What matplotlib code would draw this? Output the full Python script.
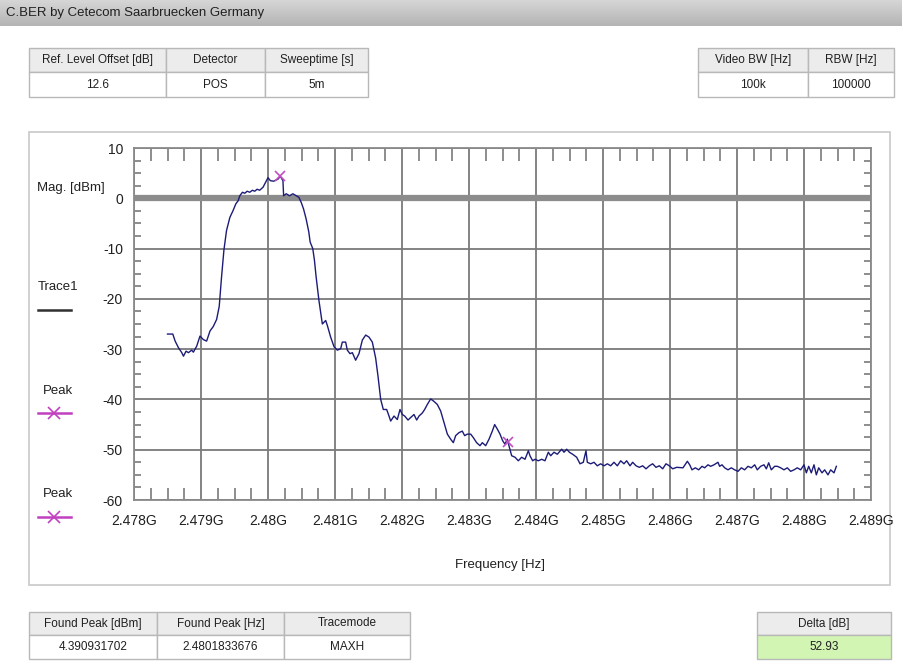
import numpy as np
import matplotlib
matplotlib.use("Agg")
import matplotlib.pyplot as plt
from matplotlib.patches import Rectangle
from matplotlib.lines import Line2D
from matplotlib.ticker import MultipleLocator, FuncFormatter

plt.rcParams['font.family'] = ['Liberation Sans Narrow', 'Liberation Sans', 'DejaVu Sans']

# ---------------- data ----------------
title = "C.BER by Cetecom Saarbruecken Germany"

top_left_headers = ["Ref. Level Offset [dB]", "Detector", "Sweeptime [s]"]
top_left_values = ["12.6", "POS", "5m"]
top_right_headers = ["Video BW [Hz]", "RBW [Hz]"]
top_right_values = ["100k", "100000"]
bottom_headers = ["Found Peak [dBm]", "Found Peak [Hz]", "Tracemode"]
bottom_values = ["4.390931702", "2.4801833676", "MAXH"]
delta_header = "Delta [dB]"
delta_value = "52.93"

# trace: frequency in MHz, level in dBm
freq_mhz = [
    2478.500, 2478.579, 2478.614, 2478.663, 2478.713, 2478.738, 2478.777, 2478.812,
    2478.861, 2478.886, 2478.936, 2478.985, 2479.035, 2479.084, 2479.134, 2479.183,
    2479.233, 2479.272, 2479.307, 2479.342, 2479.381, 2479.431, 2479.480, 2479.520,
    2479.554, 2479.579, 2479.619, 2479.653, 2479.688, 2479.728, 2479.767, 2479.802,
    2479.837, 2479.876, 2479.926, 2479.965, 2480.000, 2480.035, 2480.084, 2480.149,
    2480.183, 2480.223, 2480.233, 2480.272, 2480.322, 2480.371, 2480.421, 2480.460,
    2480.495, 2480.530, 2480.569, 2480.609, 2480.629, 2480.668, 2480.693, 2480.718,
    2480.760, 2480.811, 2480.861, 2480.886, 2480.935, 2480.985, 2481.035, 2481.085,
    2481.109, 2481.159, 2481.184, 2481.224, 2481.259, 2481.308, 2481.358, 2481.408,
    2481.458, 2481.507, 2481.557, 2481.607, 2481.642, 2481.682, 2481.721, 2481.771,
    2481.806, 2481.831, 2481.881, 2481.930, 2481.970, 2482.005, 2482.040, 2482.090,
    2482.129, 2482.179, 2482.219, 2482.254, 2482.303, 2482.338, 2482.378, 2482.428,
    2482.478, 2482.527, 2482.577, 2482.627, 2482.677, 2482.726, 2482.766, 2482.801,
    2482.851, 2482.900, 2482.935, 2482.975, 2483.025, 2483.065, 2483.114, 2483.164,
    2483.199, 2483.249, 2483.299, 2483.348, 2483.383, 2483.423, 2483.463, 2483.502,
    2483.537, 2483.572, 2483.602, 2483.637, 2483.687, 2483.736, 2483.786, 2483.836,
    2483.886, 2483.910, 2483.950, 2483.985, 2484.035, 2484.085, 2484.134, 2484.184,
    2484.219, 2484.269, 2484.318, 2484.383, 2484.418, 2484.458, 2484.498, 2484.547,
    2484.607, 2484.657, 2484.706, 2484.746, 2484.766, 2484.816, 2484.866, 2484.915,
    2484.965, 2485.015, 2485.065, 2485.114, 2485.164, 2485.214, 2485.264, 2485.313,
    2485.353, 2485.403, 2485.443, 2485.493, 2485.542, 2485.592, 2485.642, 2485.692,
    2485.741, 2485.791, 2485.841, 2485.891, 2485.940, 2485.990, 2486.040, 2486.100,
    2486.194, 2486.259, 2486.294, 2486.328, 2486.378, 2486.428, 2486.478, 2486.517,
    2486.567, 2486.607, 2486.657, 2486.716, 2486.741, 2486.776, 2486.816, 2486.866,
    2486.915, 2486.965, 2487.015, 2487.065, 2487.114, 2487.164, 2487.214, 2487.264,
    2487.303, 2487.353, 2487.403, 2487.438, 2487.473, 2487.512, 2487.562, 2487.602,
    2487.652, 2487.701, 2487.751, 2487.801, 2487.851, 2487.900, 2487.950, 2488.000,
    2488.035, 2488.070, 2488.109, 2488.149, 2488.184, 2488.219, 2488.269, 2488.308,
    2488.358, 2488.398, 2488.448, 2488.483,
]
level_dbm = [
    -27.0, -27.0, -28.4, -29.7, -30.7, -31.4, -30.4, -30.7,
    -30.2, -30.6, -29.4, -27.4, -28.1, -28.4, -26.4, -25.5,
    -24.1, -21.5, -15.6, -10.3, -6.4, -3.8, -2.4, -1.1,
    -0.5, 0.5, 1.2, 1.0, 1.4, 1.2, 1.6, 1.4,
    1.8, 1.6, 2.2, 3.2, 4.1, 3.5, 3.4, 3.8,
    4.39, 3.5, 0.5, 0.9, 0.5, 0.9, 0.5, 0.2,
    -0.8, -2.1, -4.1, -6.7, -8.7, -10.0, -12.3, -15.6,
    -20.3, -25.0, -24.3, -25.3, -27.6, -29.5, -30.2, -29.9,
    -28.6, -28.6, -30.2, -30.9, -30.7, -32.2, -30.9, -28.2,
    -27.2, -27.6, -28.6, -31.8, -35.4, -40.0, -42.0, -42.0,
    -43.3, -44.3, -43.3, -44.0, -42.0, -43.0, -43.3, -44.1,
    -43.6, -43.0, -44.1, -43.3, -42.7, -42.0, -41.0, -39.9,
    -40.4, -41.0, -42.3, -44.6, -46.9, -47.9, -48.6, -47.2,
    -46.6, -46.3, -47.2, -46.9, -46.9, -47.6, -48.6, -49.2,
    -48.6, -49.2, -47.9, -46.3, -45.0, -45.9, -46.9, -48.2,
    -48.9, -47.9, -49.5, -51.2, -51.5, -52.2, -51.5, -51.9,
    -50.2, -51.2, -52.2, -51.9, -52.2, -51.9, -52.2, -50.5,
    -51.2, -50.5, -50.9, -49.9, -50.5, -49.9, -50.5, -50.9,
    -51.5, -52.8, -52.5, -50.2, -52.5, -52.8, -52.5, -53.2,
    -52.8, -53.2, -52.8, -53.2, -52.5, -53.2, -52.2, -52.8,
    -52.2, -53.2, -52.5, -53.2, -53.5, -53.2, -53.8, -53.2,
    -52.8, -53.5, -53.2, -53.8, -52.8, -53.2, -53.8, -53.5,
    -53.6, -52.3, -53.0, -54.0, -53.6, -54.0, -53.3, -53.6,
    -53.0, -53.3, -53.0, -52.5, -53.3, -53.0, -53.6, -54.0,
    -53.6, -54.0, -54.3, -53.6, -54.0, -53.3, -53.6, -53.0,
    -54.0, -53.3, -53.0, -53.8, -52.6, -54.0, -53.3, -53.3,
    -53.6, -54.0, -53.6, -54.3, -54.0, -53.6, -54.0, -53.0,
    -54.6, -53.3, -54.6, -53.0, -55.0, -53.6, -54.6, -54.0,
    -55.0, -54.0, -54.6, -53.3,
]

peak_freq_mhz = [2480.183, 2483.580]
peak_level_dbm = [4.39, -48.54]

limit_level = 0.0
x_min_ghz, x_max_ghz = 2.478, 2.489
y_min, y_max = -60, 10

# ---------------- figure ----------------
W, H = 903, 662
fig = plt.figure(figsize=(W / 100, H / 100), dpi=100)
fig.patch.set_facecolor("white")


def fx(x):
    return x / W


def fy(y):
    return 1 - y / H


# title bar with gradient
tb = fig.add_axes([0, fy(26), 1, 26 / H])
grad = np.linspace(0, 1, 50).reshape(-1, 1)
tb.imshow(grad, aspect="auto", cmap=matplotlib.colors.LinearSegmentedColormap.from_list(
    "g", ["#d6d6d6", "#b4b4b4"]), extent=[0, 1, 0, 1])
tb.set_axis_off()
fig.text(fx(6), fy(13), title, fontsize=9.5, color="#202020", va="center", ha="left")

# chart panel
fig.patches.append(Rectangle((fx(29), fy(585)), fx(890) - fx(29), fy(132) - fy(585),
                             transform=fig.transFigure, facecolor="white",
                             edgecolor="#c8c8c8", lw=1.2, zorder=-5))


def draw_table(x0, widths, y0, hh, vh, headers, values, vcolor="white"):
    x = x0
    for w, hd, v in zip(widths, headers, values):
        fig.patches.append(Rectangle((fx(x), fy(y0 + hh)), w / W, hh / H,
                                     transform=fig.transFigure, facecolor="#ececec",
                                     edgecolor="#b8b8b8", lw=1.0))
        fig.patches.append(Rectangle((fx(x), fy(y0 + hh + vh)), w / W, vh / H,
                                     transform=fig.transFigure, facecolor=vcolor,
                                     edgecolor="#b8b8b8", lw=1.0))
        fig.text(fx(x + w / 2), fy(y0 + hh / 2), hd, fontsize=8.5, ha="center",
                 va="center", color="#202020")
        fig.text(fx(x + w / 2), fy(y0 + hh + vh / 2), v, fontsize=8.5, ha="center",
                 va="center", color="#202020")
        x += w


draw_table(29, [137, 99, 103], 48, 24, 25, top_left_headers, top_left_values)
draw_table(698, [110, 86], 48, 24, 25, top_right_headers, top_right_values)
draw_table(29, [128, 127, 126], 612, 23, 24, bottom_headers, bottom_values)
draw_table(757, [134], 612, 23, 24, [delta_header], [delta_value], vcolor="#d3f5b3")

# ---------------- main axes ----------------
ax = fig.add_axes([fx(134), fy(500), (871 - 134) / W, (500 - 148) / H])
ax.set_zorder(5)
ax.set_xlim(x_min_ghz, x_max_ghz)
ax.set_ylim(y_min, y_max)

ax.xaxis.set_major_locator(MultipleLocator(0.001))
ax.xaxis.set_minor_locator(MultipleLocator(0.00025))
ax.yaxis.set_major_locator(MultipleLocator(10))
ax.yaxis.set_minor_locator(MultipleLocator(2.5))
ax.xaxis.set_major_formatter(FuncFormatter(lambda v, p: f"{round(v, 4):g}G"))
ax.yaxis.set_major_formatter(FuncFormatter(lambda v, p: f"{int(round(v))}"))

ax.grid(True, which="major", color="#7a7a7a", lw=1.3)
ax.set_axisbelow(True)
for s in ax.spines.values():
    s.set_color("#8a8a8a")
    s.set_linewidth(1.3)

ax.tick_params(which="major", length=0, labelsize=10, colors="#202020", pad=8)
ax.tick_params(axis="x", which="minor", direction="in", length=9, top=True, bottom=True,
               color="#7a7a7a", width=1.2)
ax.tick_params(axis="y", which="minor", direction="in", length=5, left=True, right=True,
               color="#7a7a7a", width=1.2)
ax.tick_params(axis="x", which="major", pad=10)

ax.axhline(limit_level, color="#8c8c8c", lw=4.5, zorder=2)

fx_ghz = np.array(freq_mhz) / 1000.0
ax.plot(fx_ghz, level_dbm, color="#1c1c78", lw=1.0, zorder=3)
ax.plot(np.array(peak_freq_mhz) / 1000.0, peak_level_dbm, linestyle="none", marker="x",
        color="#c050c0", markersize=7, mew=1.2, zorder=4)

fig.text(fx(500), fy(565), "Frequency [Hz]", fontsize=9.5, ha="center", va="center",
         color="#202020")

# left legend area
fig.text(fx(37), fy(188), "Mag. [dBm]", fontsize=9.5, ha="left", va="center", color="#202020")
fig.text(fx(38), fy(287), "Trace1", fontsize=9.5, ha="left", va="center", color="#202020")
fig.lines.append(Line2D([fx(38), fx(71)], [fy(310), fy(310)], transform=fig.transFigure,
                        color="#303030", lw=1.8))
for ty, ly in [(391, 413), (494, 517)]:
    fig.text(fx(43), fy(ty), "Peak", fontsize=9.5, ha="left", va="center", color="#202020")
    fig.lines.append(Line2D([fx(38), fx(71)], [fy(ly), fy(ly)], transform=fig.transFigure,
                            color="#c040c0", lw=1.8))
    fig.lines.append(Line2D([fx(54.5)], [fy(ly)], transform=fig.transFigure, marker="x",
                            color="#c040c0", markersize=8, mew=1.2, linestyle="none"))

fig.savefig("out.png", dpi=100)
